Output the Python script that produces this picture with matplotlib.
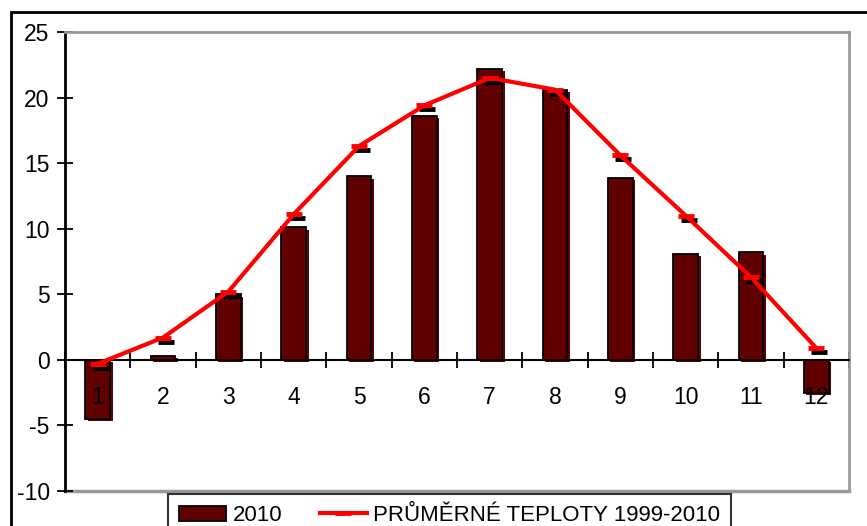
import matplotlib.pyplot as plt
import matplotlib.transforms as mtransforms
from matplotlib.patches import Rectangle

plt.rcParams['font.family'] = ['Liberation Sans', 'DejaVu Sans']
plt.rcParams['axes.unicode_minus'] = False

# Data
months = [1, 2, 3, 4, 5, 6, 7, 8, 9, 10, 11, 12]
temps_2010 = [-4.5, 0.3, 5.0, 10.1, 14.0, 18.6, 22.2, 20.6, 13.9, 8.1, 8.2, -2.5]
temps_avg = [-0.3, 1.7, 5.2, 11.1, 16.3, 19.4, 21.5, 20.6, 15.6, 11.0, 6.3, 0.9]
y_ticks = [-10, -5, 0, 5, 10, 15, 20, 25]

BAR_COLOR = "#600000"

fig = plt.figure(figsize=(8.67, 5.26), dpi=100)
ax = fig.add_axes([65 / 867, 1 - 491 / 526, (849 - 65) / 867, (491 - 32) / 526])

# bar shadows, shifted right/down a couple of pixels
shadow = mtransforms.offset_copy(ax.transData, fig=fig, x=2.5, y=-2.5, units="dots")
ax.bar(months, temps_2010, width=0.38, color=BAR_COLOR, transform=shadow, zorder=2)
bars = ax.bar(months, temps_2010, width=0.38, color=BAR_COLOR, edgecolor="black",
              linewidth=1.3, zorder=3, label="2010")

# average line with shadowed dash markers
mshadow = mtransforms.offset_copy(ax.transData, fig=fig, x=3, y=-4, units="dots")
ax.plot(months, temps_avg, linestyle="none", marker="_", markersize=11,
        markeredgewidth=3.5, color="black", transform=mshadow, zorder=4)
line, = ax.plot(months, temps_avg, color="#ff0000", linewidth=3, marker="_",
                markersize=11, markeredgewidth=3.5, zorder=5,
                label="PRŮMĚRNÉ TEPLOTY 1999-2010")

ax.set_xlim(0.5, 12.5)
ax.set_ylim(-10, 25)
ax.set_yticks(y_ticks)
ax.set_xticks([m + 0.5 for m in [0] + months])
ax.set_xticklabels([])
ax.tick_params(axis="both", direction="inout", length=12, width=1.3,
               labelsize=16.5, color="black")
ax.tick_params(axis="y", pad=5)

# month labels sit just under the zero line
for m in months:
    ax.text(m, -2.85, str(m), ha="center", va="center", fontsize=16.5, zorder=6)

ax.spines["left"].set_linewidth(2)
ax.spines["bottom"].set_position(("data", 0))
ax.spines["bottom"].set_linewidth(1.5)
for side in ["top", "right"]:
    ax.spines[side].set_color("#999999")
    ax.spines[side].set_linewidth(2)
# gray line at the bottom of the plot area
ax.axhline(-10, color="#999999", linewidth=2.5, zorder=1, clip_on=False)

# outer chart border
fig.patches.append(Rectangle((11 / 867, -0.1), 1.2, 1.1 - 12 / 526,
                             transform=fig.transFigure, fill=False,
                             edgecolor="black", linewidth=2))

leg = fig.legend([bars, line], ["2010", "PRŮMĚRNÉ TEPLOTY 1999-2010"],
                 loc="upper left", bbox_to_anchor=(168 / 867, 1 - 494 / 526),
                 ncol=2, fontsize=16, frameon=True, fancybox=False,
                 edgecolor="black", handlelength=2.1, handletextpad=0.3,
                 columnspacing=1.7, borderpad=0.5, borderaxespad=0)
leg.get_frame().set_linewidth(1.5)

fig.savefig("out.png", dpi=100)
